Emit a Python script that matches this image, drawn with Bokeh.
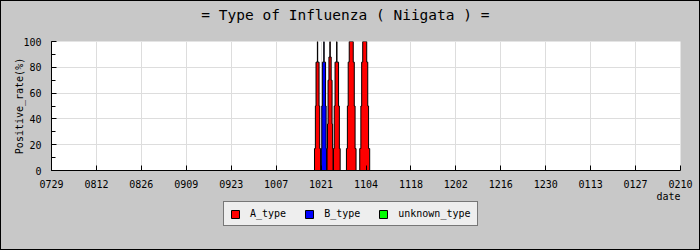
from bokeh.plotting import figure
from bokeh.layouts import column
from bokeh.models import (Range1d, FixedTicker, SingleIntervalTicker, Legend, LegendItem, Label)
from bokeh.embed import file_html
from bokeh.resources import INLINE

# ---- data ----
tick_days = [0, 14, 28, 42, 56, 70, 84, 98, 112, 126, 140, 154, 168, 182, 196]
tick_labels = ["0729", "0812", "0826", "0909", "0923", "1007", "1021", "1104",
               "1118", "1202", "1216", "1230", "0113", "0127", "0210"]

# A_type clusters: centre day (from 07/29), positive-rate steps (%), spread of each step (days)
a_days = [82.9, 86.8, 88.9, 93.4, 97.6]
a_rates = [[17, 50, 84, 100],
           [17, 36, 70, 88, 100],
           [17, 50, 84, 100],
           [17, 50, 84, 100],
           [17, 50, 84, 100]]
a_spread = [[1.9, 1.35, 0.95, 0.1],
            [1.9, 1.6, 1.25, 0.7, 0.1],
            [2.1, 1.6, 1.1, 0.1],
            [3.0, 2.4, 1.9, 1.25],
            [3.1, 2.4, 1.9, 1.25]]

b_days = [84.9]
b_rates = [[17, 50, 84, 100]]
b_spread = [[1.65, 1.35, 1.0, 0.1]]

u_days = []
u_rates = []
u_spread = []

series_names = ["A_type", "B_type", "unknown_type"]
series_colors = ["#ff0000", "#0000ff", "#00ff00"]
title_text = "= Type of Influenza ( Niigata ) ="

FONT = "DejaVu Sans Mono"
BG = "#c8c8c8"


def outlines(days, rates, spread):
    xs, ys = [], []
    for c, r, w in zip(days, rates, spread):
        lx, ly = [c - w[0] / 2], [0]
        for i in range(len(r)):
            lx += [c - w[i] / 2]
            ly += [r[i]]
            if i + 1 < len(r):
                lx += [c - w[i + 1] / 2]
                ly += [r[i]]
        rx = [2 * c - x for x in lx][::-1]
        ry = ly[::-1]
        xs.append(lx + rx)
        ys.append(ly + ry)
    return xs, ys


def strip(height, xr):
    f = figure(width=698, height=height, output_backend="svg", toolbar_location=None,
               x_range=xr, y_range=Range1d(0, height),
               x_axis_type=None, y_axis_type=None,
               min_border_left=50, min_border_right=19, min_border_top=0, min_border_bottom=0)
    f.background_fill_color = BG
    f.border_fill_color = BG
    f.outline_line_color = None
    f.grid.visible = False
    return f


xr = Range1d(0, 196)

# ---- top strip: title ----
t = strip(32, xr)
t.add_layout(Label(x=46.7, y=19, text=title_text, text_font=FONT, text_font_size="14.5px",
                   text_align="left", text_baseline="middle", text_color="black"))

# ---- main chart ----
p = figure(width=698, height=158, output_backend="svg", toolbar_location=None,
           x_range=xr, y_range=Range1d(0, 100),
           min_border_left=50, min_border_right=19, min_border_top=8, min_border_bottom=21)
p.background_fill_color = "white"
p.border_fill_color = BG
p.outline_line_color = None

series = [(a_days, a_rates, a_spread), (b_days, b_rates, b_spread), (u_days, u_rates, u_spread)]
for (d, r, w), col in zip(series, series_colors):
    xs, ys = outlines(d, r, w)
    p.patches(xs=xs, ys=ys, fill_color=col, line_color="black", line_width=1)

p.xaxis.ticker = FixedTicker(ticks=tick_days)
p.xaxis.major_label_overrides = {d: l for d, l in zip(tick_days, tick_labels)}
p.yaxis.ticker = SingleIntervalTicker(interval=20, num_minor_ticks=2)
for ax in (p.xaxis, p.yaxis):
    ax.axis_line_color = "black"
    ax.major_tick_line_color = "black"
    ax.minor_tick_line_color = "black"
    ax.major_tick_in = 5
    ax.major_tick_out = 0
    ax.minor_tick_in = 4
    ax.minor_tick_out = 0
    ax.major_label_text_font = FONT
    ax.major_label_text_font_size = "10px"
    ax.major_label_text_color = "black"
    ax.axis_label_text_font = FONT
    ax.axis_label_text_font_size = "10px"
    ax.axis_label_text_font_style = "normal"
    ax.axis_label_text_color = "black"
p.xaxis.minor_tick_in = 0
p.xaxis.major_label_standoff = 9
p.yaxis.major_label_standoff = 10
p.yaxis.axis_label = "Positive_rate(%)"
p.yaxis.axis_label_standoff = -5

p.grid.grid_line_color = "#dddddd"
p.xgrid.ticker = FixedTicker(ticks=tick_days)

# ---- lower strip: x-axis name and legend ----
q = strip(58, xr)
q.add_layout(Label(x=196, y=53, text="date", text_font=FONT, text_font_size="10px",
                   text_align="right", text_baseline="middle", text_color="black"))

nan = float("nan")
items = []
for name, col in zip(series_names, series_colors):
    rr = q.patches(xs=[[nan]], ys=[[nan]], fill_color=col, line_color="black", line_width=1)
    items.append(LegendItem(label=name, renderers=[rr]))

legend = Legend(items=items, orientation="horizontal", location=(172, 23))
legend.label_text_font = FONT
legend.label_text_font_size = "10px"
legend.label_text_color = "black"
legend.glyph_width = 10
legend.glyph_height = 10
legend.label_height = 10
legend.label_standoff = 10
legend.spacing = 18
legend.padding = 6
legend.margin = 0
legend.border_line_color = "black"
legend.background_fill_color = "#eeeeee"
legend.background_fill_alpha = 1
q.add_layout(legend, "center")

layout = column(t, p, q, spacing=0,
                styles={"border": "1px solid black", "background-color": BG})
open("out.html", "w").write(file_html(layout, INLINE))
